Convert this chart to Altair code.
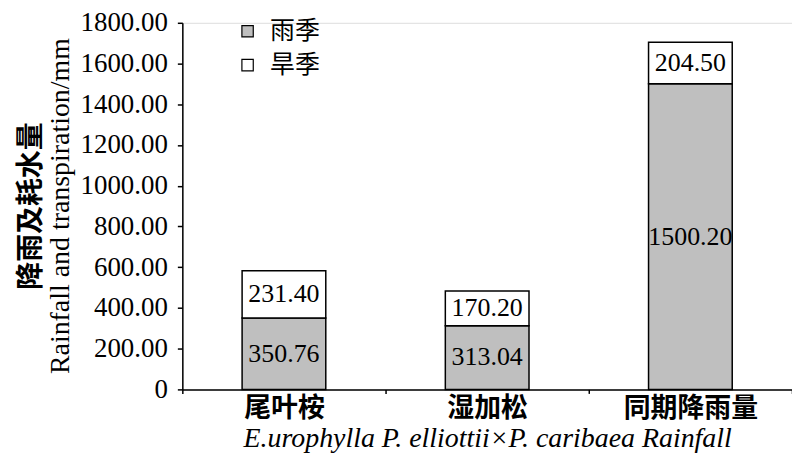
import altair as alt
import pandas as pd

categories = ["尾叶桉", "湿加松", "同期降雨量"]
rainy = [350.76, 313.04, 1500.20]
dry = [231.40, 170.20, 204.50]
seasons = ["雨季", "旱季"]
y_ticks = [0, 200, 400, 600, 800, 1000, 1200, 1400, 1600, 1800]

rows = []
for c, r, d in zip(categories, rainy, dry):
    rows.append({"cat": c, "season": seasons[0], "order": 0, "value": r})
    rows.append({"cat": c, "season": seasons[1], "order": 1, "value": d})
df = pd.DataFrame(rows)

serif = "Liberation Serif"
cjk = "Noto Sans CJK SC"

base = alt.Chart(df).transform_stack(
    stack="value", as_=["y0", "y1"], groupby=["cat"], sort=[alt.SortField("order")]
).transform_calculate(mid="(datum.y0 + datum.y1) / 2")

x_enc = alt.X(
    "cat:N",
    sort=categories,
    scale=alt.Scale(paddingInner=0, paddingOuter=0),
    axis=alt.Axis(
        title="E.urophylla P. elliottii×P. caribaea Rainfall",
        titleFont=serif, titleFontStyle="italic", titleFontWeight="normal",
        titleFontSize=28, titleColor="black", titlePadding=3,
        labelFont=cjk, labelFontWeight="bold", labelFontSize=27, labelColor="black",
        labelAngle=0, labelPadding=2, tickBand="extent", tickSize=4,
        tickColor="black", domainColor="black", domainWidth=1.5, tickWidth=1.5,
    ),
)

bars = base.mark_bar(size=84, stroke="black", strokeWidth=1.5).encode(
    x=x_enc,
    y=alt.Y(
        "y0:Q",
        scale=alt.Scale(domain=[0, 1800], nice=False),
        axis=alt.Axis(
            title=None, values=y_ticks, grid=False,
            labelExpr="datum.value == 0 ? '0' : format(datum.value, '.2f')",
            labelFont=serif, labelFontSize=27, labelColor="black", labelPadding=10,
            tickSize=5, tickColor="black", domainColor="black", domainWidth=1.5, tickWidth=1.5,
        ),
    ),
    y2="y1:Q",
    fill=alt.Fill(
        "season:N",
        scale=alt.Scale(domain=seasons, range=["#bfbfbf", "#ffffff"]),
        legend=alt.Legend(
            title=None, orient="none", legendX=53, legendY=-4,
            labelFont=cjk, labelFontSize=25, labelColor="black",
            symbolType="square", symbolSize=130, symbolStrokeColor="black",
            symbolStrokeWidth=1.2, rowPadding=8, labelOffset=10,
        ),
    ),
)

labels = base.mark_text(font=serif, fontSize=26, color="black").encode(
    x=alt.X("cat:N", sort=categories),
    y="mid:Q",
    text=alt.Text("value:Q", format=".2f"),
)

chart = (
    alt.layer(bars, labels)
    .properties(
        width=612,
        height=368,
        autosize=alt.AutoSizeParams(type="none"),
        padding={"left": 175, "top": 14, "right": 0, "bottom": 64},
        title=alt.TitleParams(
            text="降雨及耗水量",
            subtitle="Rainfall and transpiration/mm",
            orient="left", anchor="middle",
            font=cjk, fontSize=28, fontWeight="bold", color="black",
            subtitleFont=serif, subtitleFontSize=28, subtitleColor="black",
            subtitlePadding=1, offset=5,
        ),
    )
    .configure_view(stroke=None)
    .configure(background="white")
)

chart.save("out.html", embed_options={"renderer": "svg", "actions": False})
